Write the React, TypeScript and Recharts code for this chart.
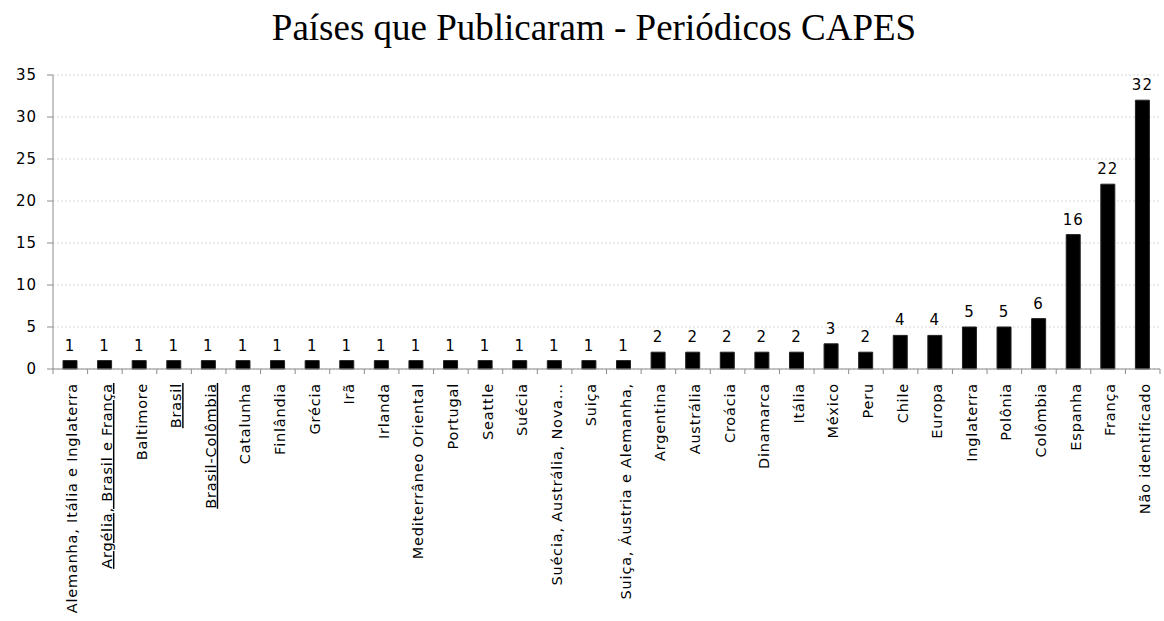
import { BarChart, Bar, XAxis, YAxis, CartesianGrid, LabelList } from 'recharts'

// ── Data ──────────────────────────────────────────────────────────────────

const countries = [
  'Alemanha, Itália e Inglaterra', 'Argélia, Brasil e França', 'Baltimore', 'Brasil',
  'Brasil-Colômbia', 'Catalunha', 'Finlândia', 'Grécia', 'Irã', 'Irlanda',
  'Mediterrâneo Oriental', 'Portugal', 'Seattle', 'Suécia', 'Suécia, Austrália, Nova...',
  'Suiça', 'Suiça, Áustria e Alemanha,', 'Argentina', 'Austrália', 'Croácia', 'Dinamarca',
  'Itália', 'México', 'Peru', 'Chile', 'Europa', 'Inglaterra', 'Polônia', 'Colômbia',
  'Espanha', 'França', 'Não identificado',
]
const counts = [1, 1, 1, 1, 1, 1, 1, 1, 1, 1, 1, 1, 1, 1, 1, 1, 1, 2, 2, 2, 2, 2, 3, 2, 4, 4, 5, 5, 6, 16, 22, 32]
const yTicks = [0, 5, 10, 15, 20, 25, 30, 35]

// labels that carry an underline in the original sheet
const underlined = new Set(['Argélia, Brasil e França', 'Brasil', 'Brasil-Colômbia'])

const data = countries.map((name, i) => ({ name, count: counts[i] }))

// ── Layout ────────────────────────────────────────────────────────────────

const W = 1164
const H = 621
const Y_AXIS_W = 53
const RIGHT = 4
const BAND = (W - Y_AXIS_W - RIGHT) / countries.length
const FONT = '"DejaVu Sans", sans-serif'
const AXIS = '#8c8c8c'

function CategoryTick(props: any) {
  const { x, y, payload, index } = props
  const axisY = y - 8
  const left = x - BAND / 2
  return (
    <g>
      <line x1={left} y1={axisY} x2={left} y2={axisY + 5} stroke={AXIS} />
      {index === countries.length - 1 && (
        <line x1={x + BAND / 2} y1={axisY} x2={x + BAND / 2} y2={axisY + 5} stroke={AXIS} />
      )}
      <text
        transform={`translate(${x + 2},${axisY + 14}) rotate(-90)`}
        textAnchor="end"
        dy="0.35em"
        fontSize={14.5}
        letterSpacing={0.8}
        fontFamily={FONT}
        fill="#000"
        textDecoration={underlined.has(payload.value) ? 'underline' : undefined}
      >
        {payload.value}
      </text>
    </g>
  )
}

export default function App() {
  return (
    <div style={{ position: 'absolute', left: 0, top: 0, width: W, height: H, background: '#fff' }}>
      <div
        style={{
          position: 'absolute', left: 12, top: 9, width: W, textAlign: 'center', lineHeight: '38px',
          fontFamily: '"Liberation Serif", "Times New Roman", serif', fontSize: 37, color: '#000',
        }}
      >
        Países que Publicaram - Periódicos CAPES
      </div>
      <BarChart
        width={W} height={H} data={data}
        margin={{ top: 75, right: RIGHT, bottom: 0, left: 0 }}
        barSize={14}
      >
        <CartesianGrid vertical={false} stroke="#d9d9d9" strokeDasharray="2 2" />
        <XAxis
          dataKey="name" interval={0} height={252} tickLine={false}
          axisLine={{ stroke: AXIS }} tick={<CategoryTick />}
        />
        <YAxis
          domain={[0, 35]} ticks={yTicks} width={Y_AXIS_W} tickSize={6} tickMargin={10}
          axisLine={{ stroke: AXIS }} tickLine={{ stroke: AXIS }}
          tick={{ fontSize: 15, fontFamily: FONT, fill: '#000', letterSpacing: 1 }}
        />
        <Bar dataKey="count" fill="#000" stroke="#222" isAnimationActive={false}>
          <LabelList
            dataKey="count" position="top" offset={10}
            style={{ fontSize: 15, fontFamily: FONT, fill: '#000', letterSpacing: 1 }}
          />
        </Bar>
      </BarChart>
    </div>
  )
}
